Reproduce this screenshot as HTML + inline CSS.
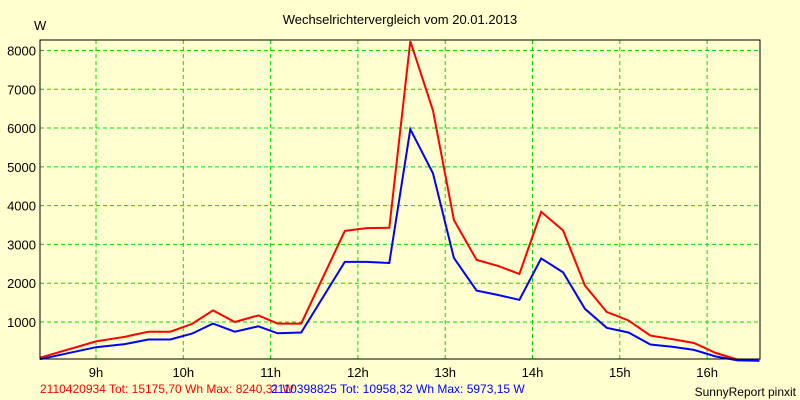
<!DOCTYPE html>
<html><head><meta charset="utf-8"><style>
body{margin:0;background:#ffffd0;}
svg{display:block;font-family:"Liberation Sans",sans-serif;}
</style></head><body>
<svg id="chart" width="800" height="400" xmlns="http://www.w3.org/2000/svg">
<rect x="0" y="0" width="800" height="400" fill="#ffffd0"/>
<text x="400" y="24" font-size="13" text-anchor="middle" fill="#000">Wechselrichtervergleich vom 20.01.2013</text>
<text x="34" y="30" font-size="13" fill="#000">W</text>
<g id="grid"></g>
<g id="series"></g>
<rect x="40" y="40" width="720" height="319" fill="none" stroke="#000" stroke-width="1"/>
<g id="labels"></g>
<text x="40" y="393" font-size="12" fill="#f00">2110420934 Tot: 15175,70 Wh Max: 8240,31 W</text>
<text x="271" y="393" font-size="12" fill="#00f">2110398825 Tot: 10958,32 Wh Max: 5973,15 W</text>
<text x="796" y="396" font-size="12" fill="#000" text-anchor="end">SunnyReport pinxit</text>
</svg>
<script>
const times=[8.36,9.0,9.33,9.6,9.85,10.1,10.34,10.59,10.86,11.08,11.35,11.85,12.1,12.36,12.6,12.86,13.1,13.36,13.6,13.85,14.1,14.35,14.6,14.85,15.1,15.35,15.6,15.85,16.1,16.35,16.6];
const redValues=[80,500,620,750,750,950,1300,1000,1170,960,960,3350,3420,3430,8240,6450,3630,2600,2450,2240,3840,3360,1940,1260,1040,650,560,460,200,30,0];
const blueValues=[40,350,430,550,550,700,960,750,890,710,730,2550,2550,2520,5970,4830,2650,1810,1700,1570,2640,2280,1340,850,730,420,360,280,110,10,0];
const yTicks=[1000,2000,3000,4000,5000,6000,7000,8000];
const xTicks=[9,10,11,12,13,14,15,16];
const xTickLabels=["9h","10h","11h","12h","13h","14h","15h","16h"];
const NS="http://www.w3.org/2000/svg";
function x(h){return 96+(h-9)*87.3;}
function y(v){return 360.8-v*0.03879;}
const grid=document.getElementById('grid'),labels=document.getElementById('labels'),series=document.getElementById('series');
yTicks.forEach(v=>{
  const l=document.createElementNS(NS,'line');
  
  
  l.setAttribute('x1',40);l.setAttribute('x2',760);l.setAttribute('y1',y(v));l.setAttribute('y2',y(v));
  l.setAttribute('stroke','#00e000');l.setAttribute('stroke-dasharray','4,3');
  grid.appendChild(l);
  const t=document.createElementNS(NS,'text');
  
  
  t.setAttribute('x',36);t.setAttribute('y',y(v)+5);t.setAttribute('text-anchor','end');t.setAttribute('font-size','13');
  t.textContent=v;labels.appendChild(t);
});
xTicks.forEach((h,i)=>{
  const l=document.createElementNS(NS,'line');
  
  
  l.setAttribute('x1',x(h));l.setAttribute('x2',x(h));l.setAttribute('y1',40);l.setAttribute('y2',359);
  l.setAttribute('stroke','#00e000');l.setAttribute('stroke-dasharray','4,3');
  grid.appendChild(l);
  const t=document.createElementNS(NS,'text');
  
  
  t.setAttribute('x',x(h));t.setAttribute('y',377);t.setAttribute('text-anchor','middle');t.setAttribute('font-size','13');
  t.textContent=xTickLabels[i];labels.appendChild(t);
});
function line(vals,color,name){
  const p=document.createElementNS(NS,'polyline');
  
  
  p.setAttribute('points',vals.map((v,i)=>x(times[i]).toFixed(1)+','+y(v).toFixed(1)).join(' '));
  p.setAttribute('fill','none');p.setAttribute('stroke',color);p.setAttribute('stroke-width','2');
  series.appendChild(p);
}
line(redValues,'#ff0000','series-2110420934');
line(blueValues,'#0000ff','series-2110398825');
</script>
</body></html>
